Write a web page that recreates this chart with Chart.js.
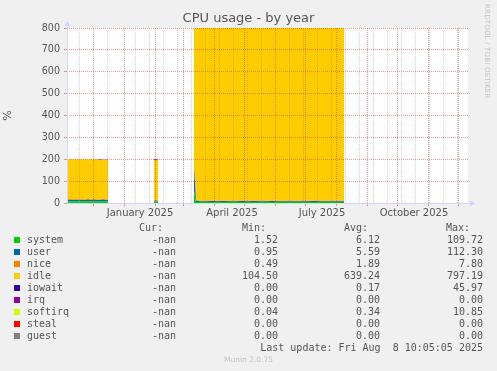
<!DOCTYPE html>
<html>
<head>
<meta charset="utf-8">
<script src="https://cdn.jsdelivr.net/npm/chart.js@4.4.1/dist/chart.umd.min.js"></script>
<style>
  html, body { margin: 0; padding: 0; background: #f0f0f0; }
  #wrap { position: relative; width: 497px; height: 371px; overflow: hidden; }
  #c { position: absolute; left: 0; top: 0; }
  .t { position: absolute; white-space: pre; font-family: "DejaVu Sans Mono", monospace; font-size: 10px; line-height: 12px; color: #555; }
  .r { text-align: right; left: 0; }
  .box { position: absolute; width: 6px; height: 6px; }
  #title { position: absolute; left: 0; width: 497px; top: 10px; text-align: center; font-family: "DejaVu Sans", sans-serif; font-size: 13px; color: #555; }
  #wm { position: absolute; left: 483px; top: 4px; writing-mode: vertical-rl; font-family: "DejaVu Sans", sans-serif; font-size: 7px; color: #c4c4c4; letter-spacing: 0.2px; }
  #foot { position: absolute; left: 0; width: 497px; top: 355px; text-align: center; font-family: "DejaVu Sans", sans-serif; font-size: 7.5px; color: #c4c4c4; }
</style>
</head>
<body>
<div id="wrap">
  <canvas id="c" width="497" height="371"></canvas>
  <div id="title">CPU usage - by year</div>
  <div id="wm">RRDTOOL / TOBI OETIKER</div>
  <div id="foot">Munin 2.0.75</div>
</div>
<script>
// days counted from 1 Jan 2025, null = no data
const days = [-57, -54, -51, -48, -45, -42, -39, -36, -33, -30, -27, -24, -21, -18, -16,
  -15,
  30, 32, 34,
  35,
  70, 72, 76, 82, 88, 94, 100, 106, 112, 118, 124, 130, 136, 142, 148, 154, 160, 166, 172, 178, 184, 190, 196, 202, 208, 214, 220];

const system = [8, 7, 8, 7, 8, 7, 8, 8, 7, 8, 7, 8, 8, 7, 8,
  null,
  7, 7, 6,
  null,
  55, 5, 4.5, 4.2, 4.6, 4.4, 4.8, 4.3, 4.1, 4.5, 4.4, 4.7, 4.3, 4.2, 4.6, 4.4, 4.3, 4.5, 4.7, 4.2, 4.4, 4.6, 4.3, 4.5, 4.4, 4.6, 4.3];
const user = [7, 8, 6, 8, 7, 7, 6, 8, 7, 8, 7, 6, 8, 7, 7,
  null,
  3, 4, 3,
  null,
  110, 6, 4, 3.8, 4.1, 3.9, 4.2, 4, 3.7, 4.1, 3.9, 4, 4.2, 3.8, 4, 4.1, 3.9, 4, 3.8, 4.2, 3.9, 4, 4.1, 3.8, 4, 3.9, 4.1];
const nice = [2, 2, 3, 2, 2, 3, 2, 2, 3, 2, 2, 2, 3, 2, 2,
  null,
  3, 3, 2,
  null,
  2, 1.5, 1.2, 1.4, 1.1, 1.3, 1.5, 1.2, 1.1, 1.4, 1.6, 1.2, 1.3, 1.1, 1.5, 1.2, 1.4, 1.3, 1.2, 1.1, 1.5, 1.3, 1.2, 1.4, 1.1, 1.3, 1.2];
const idle = [182.7, 182.7, 182.7, 182.7, 182.7, 182.7, 183.7, 181.7, 182.7, 181.7, 183.7, 180.7, 180.7, 181.7, 182.7,
  null,
  183.7, 182.7, 186.7,
  null,
  632.7, 787.1, 789.9, 790.2, 789.8, 790, 789.1, 790.1, 790.7, 789.6, 789.7, 789.7, 789.8, 790.5, 789.5, 789.9, 790, 789.8, 789.9, 790.1, 789.8, 789.7, 790, 789.9, 790.1, 789.8, 790];
const iowait = [0, 0, 0, 0, 0, 0, 0, 0, 0, 0, 0, 3, 0, 2, 0,
  null,
  3, 3, 2,
  null,
  0, 0.1, 0.1, 0.1, 0.1, 0.1, 0.1, 0.1, 0.1, 0.1, 0.1, 0.1, 0.1, 0.1, 0.1, 0.1, 0.1, 0.1, 0.1, 0.1, 0.1, 0.1, 0.1, 0.1, 0.1, 0.1, 0.1];
const softirq = [0.3, 0.3, 0.3, 0.3, 0.3, 0.3, 0.3, 0.3, 0.3, 0.3, 0.3, 0.3, 0.3, 0.3, 0.3,
  null,
  0.3, 0.3, 0.3,
  null,
  0.3, 0.3, 0.3, 0.3, 0.3, 0.3, 0.3, 0.3, 0.3, 0.3, 0.3, 0.3, 0.3, 0.3, 0.3, 0.3, 0.3, 0.3, 0.3, 0.3, 0.3, 0.3, 0.3, 0.3, 0.3, 0.3, 0.3];

// legend table
const names = ["system", "user", "nice", "idle", "iowait", "irq", "softirq", "steal", "guest"];
const colors = ["#00cc00", "#0066b3", "#ff8000", "#ffcc00", "#330099", "#990099", "#ccff00", "#ff0000", "#808080"];
const curVals = ["-nan", "-nan", "-nan", "-nan", "-nan", "-nan", "-nan", "-nan", "-nan"];
const minVals = ["1.52", "0.95", "0.49", "104.50", "0.00", "0.00", "0.04", "0.00", "0.00"];
const avgVals = ["6.12", "5.59", "1.89", "639.24", "0.17", "0.00", "0.34", "0.00", "0.00"];
const maxVals = ["109.72", "112.30", "7.80", "797.19", "45.97", "0.00", "10.85", "0.00", "0.00"];

// x axis: month starts (red), fortnightly minor lines (grey), label positions
const monthDays = [-31, 0, 31, 59, 90, 120, 151, 181, 212, 243, 273, 304, 334];
const minorDays = [-45, -17, 11, 25, 39, 53, 67, 81, 95, 109, 123, 137, 165, 179, 193, 207, 221, 235, 249, 263, 277, 291, 305, 319, 333];
const labelDays = [16, 108, 198, 290];
const labelText = ["January 2025", "April 2025", "July 2025", "October 2025"];

const MAJOR = "rgba(222,79,79,0.6)";
const MINOR = "rgba(143,143,143,0.4)";
const NONE = "rgba(0,0,0,0)";

const plotted = ["system", "user", "nice", "idle", "iowait", "softirq"];
const series = [system, user, nice, idle, iowait, softirq];

const datasets = series.map((s, k) => ({
  label: plotted[k],
  data: days.map((d, i) => ({ x: d, y: s[i] })),
  backgroundColor: colors[names.indexOf(plotted[k])],
  borderColor: "rgba(0,0,0,0)",
  borderWidth: 0,
  pointRadius: 0,
  tension: 0,
  fill: k === 0 ? "origin" : "-1",
}));

const xGrid = (v) => {
  if (monthDays.includes(v)) return MAJOR;
  if (labelDays.includes(v)) return NONE;
  return MINOR;
};

const frame = {
  id: "frame",
  beforeDraw(chart) {
    const { ctx, chartArea: a } = chart;
    ctx.save();
    ctx.fillStyle = "#f0f0f0";
    ctx.fillRect(0, 0, chart.width, chart.height);
    ctx.fillStyle = "#ffffff";
    ctx.fillRect(a.left, a.top, a.right - a.left, a.bottom - a.top);
    ctx.restore();
  },
  afterDraw(chart) {
    const { ctx, chartArea: a } = chart;
    ctx.save();
    ctx.fillStyle = "#cfd6f8";
    ctx.strokeStyle = "#cfd6f8";
    ctx.lineWidth = 1;
    ctx.beginPath();
    ctx.moveTo(a.left + 0.5, a.bottom);
    ctx.lineTo(a.left + 0.5, a.top - 3);
    ctx.moveTo(a.left, a.bottom + 0.5);
    ctx.lineTo(a.right + 2, a.bottom + 0.5);
    ctx.stroke();
    ctx.beginPath();
    ctx.moveTo(a.left + 0.5, a.top - 7);
    ctx.lineTo(a.left - 2.5, a.top - 2);
    ctx.lineTo(a.left + 3.5, a.top - 2);
    ctx.closePath();
    ctx.fill();
    ctx.beginPath();
    ctx.moveTo(a.right + 7, a.bottom + 0.5);
    ctx.lineTo(a.right + 2, a.bottom - 2.5);
    ctx.lineTo(a.right + 2, a.bottom + 3.5);
    ctx.closePath();
    ctx.fill();
    ctx.restore();
  },
};

new Chart(document.getElementById("c"), {
  type: "line",
  data: { datasets },
  options: {
    responsive: false,
    animation: false,
    events: [],
    layout: { padding: { left: 0, right: 29, top: 28, bottom: 150 } },
    plugins: { legend: { display: false }, tooltip: { enabled: false }, title: { display: false } },
    scales: {
      x: {
        type: "linear",
        min: -57,
        max: 344,
        afterBuildTicks: (s) => {
          s.ticks = [...monthDays, ...minorDays, ...labelDays].filter((v) => v >= -57 && v <= 344)
            .sort((a, b) => a - b).map((v) => ({ value: v }));
        },
        afterFit: (s) => { s.height = 18; },
        grid: {
          z: 1,
          color: (c) => xGrid(c.tick.value),
          lineWidth: 1,
          drawTicks: true,
          tickLength: 3,
          tickColor: (c) => (monthDays.includes(c.tick.value) ? MAJOR : NONE),
        },
        border: { display: false, dash: [1, 1] },
        ticks: {
          autoSkip: false,
          maxRotation: 0,
          padding: 1,
          color: "#555",
          font: { family: "DejaVu Sans", size: 10 },
          callback: (v) => {
            const i = labelDays.indexOf(v);
            return i >= 0 ? labelText[i] : "";
          },
        },
      },
      y: {
        stacked: true,
        min: 0,
        max: 800,
        afterFit: (s) => { s.width = 67; },
        grid: {
          z: 1,
          color: (c) => (c.tick.value === 0 ? NONE : c.tick.value % 100 === 0 ? MAJOR : MINOR),
          lineWidth: 1,
          drawTicks: true,
          tickLength: 3,
          tickColor: (c) => (c.tick.value % 100 === 0 ? MAJOR : NONE),
        },
        border: { display: false, dash: [1, 1] },
        title: { display: true, text: "%", color: "#555", font: { family: "DejaVu Sans", size: 11 }, padding: 2 },
        ticks: {
          stepSize: 50,
          padding: 4,
          color: "#555",
          font: { family: "DejaVu Sans", size: 9.6 },
          callback: (v) => (v % 100 === 0 ? String(v) : ""),
        },
      },
    },
  },
  plugins: [frame],
});

// legend below the graph, as text
const wrap = document.getElementById("wrap");
const put = (text, right, top) => {
  const el = document.createElement("div");
  el.className = "t";
  el.textContent = text;
  el.style.top = top + "px";
  if (right !== null) { el.classList.add("r"); el.style.width = right + "px"; }
  wrap.appendChild(el);
  return el;
};
put("Cur:", 163, 222);
put("Min:", 266, 222);
put("Avg:", 368, 222);
put("Max:", 470, 222);
names.forEach((n, i) => {
  const top = 234 + i * 12;
  const b = document.createElement("div");
  b.className = "box";
  b.style.left = "14px";
  b.style.top = (top + 3) + "px";
  b.style.background = colors[i];
  wrap.appendChild(b);
  const el = put(n, null, top);
  el.style.left = "27px";
  put(curVals[i], 176, top);
  put(minVals[i], 278, top);
  put(avgVals[i], 380, top);
  put(maxVals[i], 483, top);
});
put("Last update: Fri Aug  8 10:05:05 2025", 483, 342);
</script>
</body>
</html>
